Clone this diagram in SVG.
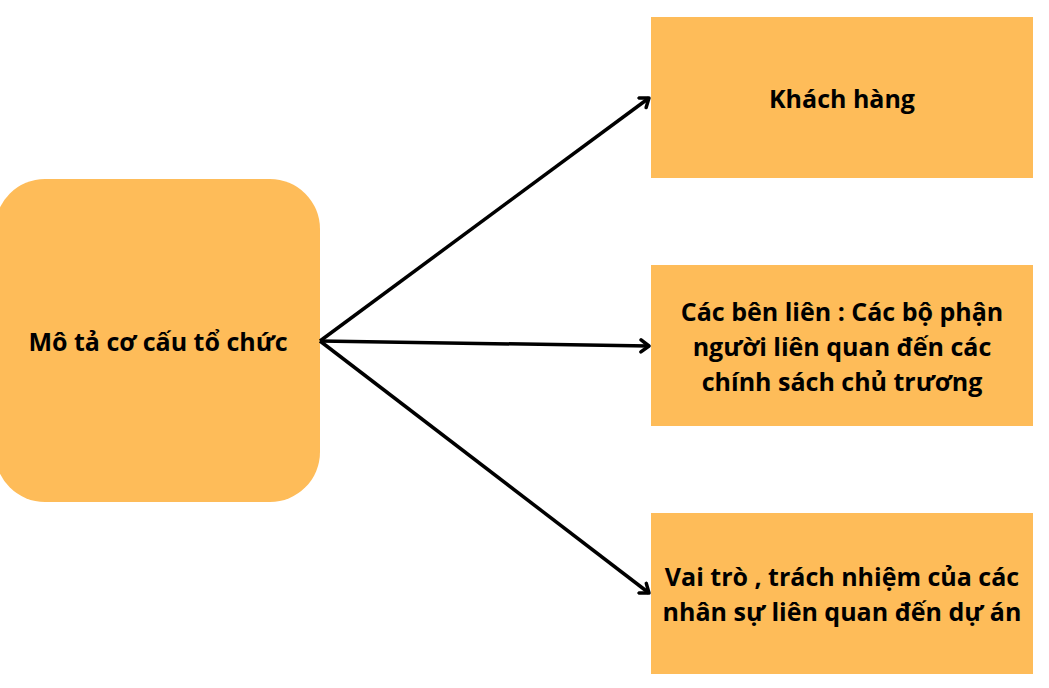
<svg xmlns="http://www.w3.org/2000/svg" width="1049" height="688" viewBox="0 0 1049 688">
<style>
.box{fill:#FEBC59}
.t{font-family:"Open Sans","Noto Sans",sans-serif;font-weight:bold;font-size:25px;fill:#000;text-anchor:middle}
.c{stroke:#000;stroke-width:3.5;fill:none;marker-end:url(#ah)}
</style>
<defs>
<marker id="ah" markerWidth="14" markerHeight="16" refX="10" refY="8" orient="auto" markerUnits="userSpaceOnUse">
<path d="M2,2 L10,8 L2,14" fill="none" stroke="#000" stroke-width="3.5" stroke-linecap="round" stroke-linejoin="round"/>
</marker>
</defs>
<rect width="1049" height="688" fill="#fff"/>
<g id="n0"><rect class="box" x="-5" y="179" width="325" height="323" rx="50"/><text class="t" x="158" y="351">Mô tả cơ cấu tổ chức</text></g>
<g id="n1"><rect class="box" x="651" y="17" width="382" height="161"/><text class="t" x="842" y="108">Khách hàng</text></g>
<g id="n2"><rect class="box" x="651" y="265" width="382" height="161"/><text class="t" x="842"><tspan x="842" y="321">Các bên liên : Các bộ phận</tspan><tspan x="842" y="356">người liên quan đến các</tspan><tspan x="842" y="391">chính sách chủ trương</tspan></text></g>
<g id="n3"><rect class="box" x="651" y="513" width="382" height="161"/><text class="t" x="842"><tspan x="842" y="586">Vai trò , trách nhiệm của các</tspan><tspan x="842" y="621">nhân sự liên quan đến dự án</tspan></text></g>
<g id="connectors">
<path class="c" d="M320,341 L649,98"/>
<path class="c" d="M320,341 L649,346"/>
<path class="c" d="M320,341 L649,593"/>
</g>
</svg>
